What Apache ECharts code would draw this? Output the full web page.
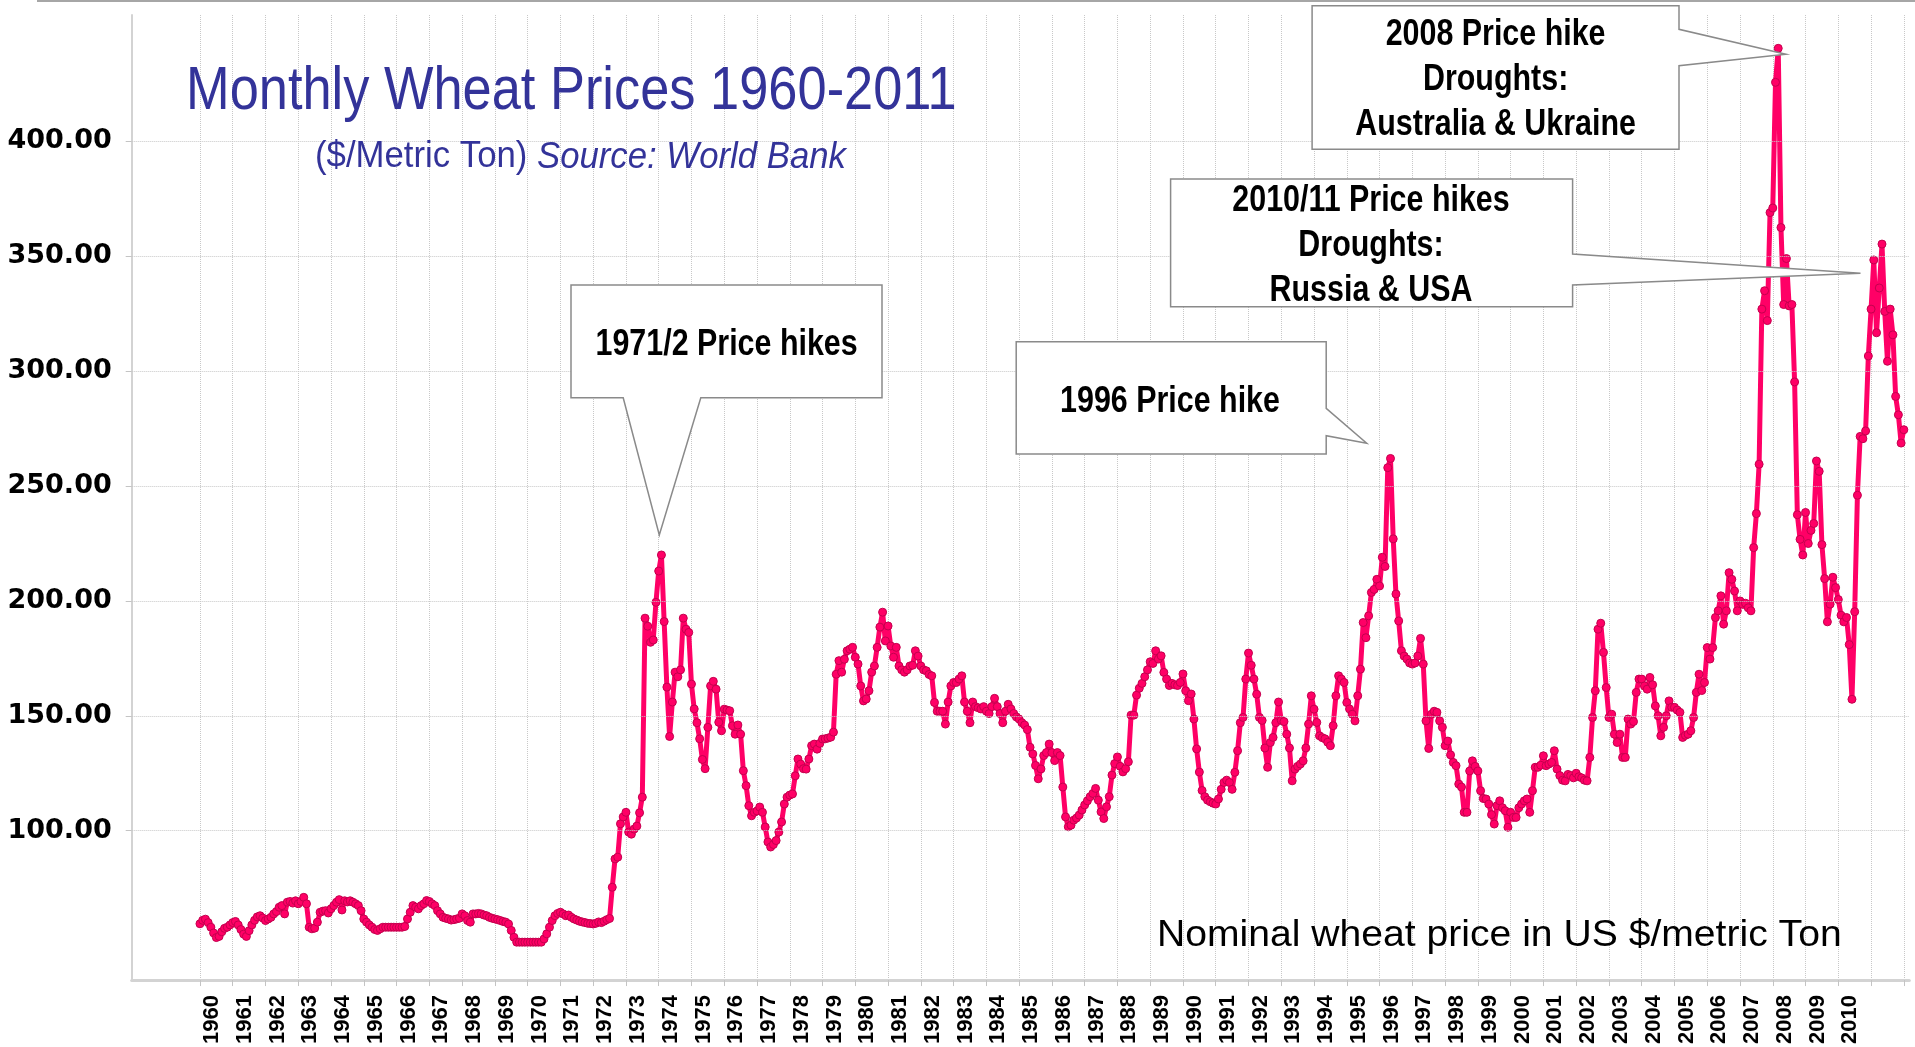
<!DOCTYPE html>
<html>
<head>
<meta charset="utf-8">
<script src="https://cdn.jsdelivr.net/npm/echarts@6/dist/echarts.min.js"></script>
<style>html,body{margin:0;padding:0;background:#fff}#c{width:1915px;height:1047px}</style>
</head>
<body>
<div id="c"></div>
<script>
// ---- monthly nominal wheat price, US $/metric ton ----
const prices1960s = [
  59.5, 61, 61.5, 60, 58, 55.5, 53.5, 54, 56, 57.5, 58, 59,
  60, 60.5, 59, 57, 55, 54, 56.5, 59, 61, 62.5, 63, 62,
  60.9, 61.6, 62.3, 63.8, 64.8, 66.7, 67.4, 63.8, 68.9, 69.2, 68.5, 69.5,
  68.2, 69.2, 71, 68.2, 58, 57.3, 57.6, 60.2, 64.5, 65, 65.2, 64.2,
  66, 67.4, 68.9, 70, 65.5, 69.5, 69, 69.5, 68.9, 68.2, 67.4, 65.2,
  61.6, 60.2, 59, 58, 57, 56.6, 57.3, 58, 58, 58, 58, 58,
  58, 58, 58, 58.3, 61.6, 64.5, 67.4, 66.7, 66, 67.4, 68.2, 69.6,
  69.2, 68.2, 67.4, 65.2, 63.8, 62.3, 61.9, 61.6, 61.1, 61.3, 61.6, 61.9,
  63.8, 63, 60.9, 60.2, 63.8, 63.8, 64, 63.8, 63.3, 63, 62.3, 61.9,
  61.6, 61.3, 60.9, 60.5, 60.2, 59.4, 56.6, 53.6, 51.5, 51.5, 51.5, 51.5
];
const prices1970s = [
  51.5, 51.5, 51.5, 51.5, 51.5, 51.5, 52.9, 55.1, 58, 60.9, 63, 64,
  64.5, 63.8, 63, 63.3, 62.3, 61.6, 61.1, 60.6, 60.3, 60, 59.7, 59.6,
  59.4, 59.7, 60.3, 60, 60.6, 61.3, 61.8, 75.4, 87.7, 88.5, 103, 106,
  108, 99.4, 98.5, 100.7, 102, 107.8, 114.6, 192.5, 189, 182, 183, 199.4,
  213, 220, 191, 162.5, 141, 156, 169, 167, 170, 192.5, 187.7, 186.3,
  163.8, 153, 147, 140, 131, 127, 145, 163, 165, 161.6, 147.2, 143.5,
  152.9, 152.5, 152.2, 145.7, 142, 146, 142, 126.1, 119.6, 110.9, 106.5, 108,
  108.6, 110.3, 108, 101.6, 95.1, 92.9, 94, 95.7, 99.4, 103.8, 111.6, 114.6,
  115.5, 116, 123.9, 131.2, 129, 127, 126.8, 131.2, 137, 137.7, 135.5, 138,
  139.9, 140, 140.3, 140.7, 142.9, 168.1, 174, 169, 174.6, 178.3, 179, 179.8
];
const prices1980s = [
  175.5, 172.5, 163, 156.5, 157.3, 160.9, 169, 171.7, 179.8, 188.6, 195.1, 182.6,
  189.1, 180.4, 175.5, 179.8, 171.7, 170, 169, 170, 171.7, 172, 178.3, 176,
  171.7, 170, 169.6, 168, 167.4, 155.8, 152, 152, 152, 146.4, 156, 163,
  164.5, 164.5, 166, 167.4, 156, 152, 147, 156, 154, 153.5, 153, 154,
  152, 151, 154, 157.6, 154, 151, 147, 152, 155, 153, 151, 149.5,
  148.6, 147, 146, 144, 136.3, 133.4, 128.4, 122.6, 126.9, 132.7, 134, 137.7,
  134, 130.5, 134, 132.7, 119, 106, 101.7, 102.4, 104.6, 105.5, 106.8, 109,
  111.2, 113, 114.8, 116.2, 118.4, 113.3, 108.2, 105.3, 110.4, 114.8, 124.2, 129.2,
  132.1, 128, 125.6, 127, 130, 150.3, 150.3, 159, 162, 164.1, 167, 170,
  173.5, 172.8, 178.3, 174.7, 176.1, 168.9, 166, 163.2, 164.1, 163.5, 163.2, 164.5
];
const prices1990s = [
  168.2, 160.9, 156.6, 159.5, 148.6, 135.6, 125.5, 117.5, 114.8, 113.3, 112.6, 112,
  111.6, 113.8, 118, 121, 122, 121, 118, 125.4, 134.8, 147, 149.3, 166,
  177.3, 172, 166, 159.4, 149.3, 148, 136, 127.6, 138.4, 140.6, 147, 156,
  148, 147.5, 142, 136, 121.7, 126.8, 128, 129, 130.4, 136, 146.4, 158.7,
  152.9, 147.1, 141.3, 140.5, 140, 138.5, 137, 145.7, 158.7, 167.4, 166, 164.5,
  155.8, 153, 150.7, 147.8, 158.7, 170.3, 190.6, 184, 193.5, 203.7, 205, 209.4,
  206.5, 219, 215, 258, 262, 227, 203, 191.3, 178.3, 176, 174.7, 173,
  172.5, 173, 176, 183.7, 172.5, 147.8, 135.8, 150.7, 152, 151.5, 147.8, 145,
  137, 139, 133, 129.7, 128.3, 120.3, 119, 108, 108, 126, 130.4, 128,
  126, 117.4, 114, 113.8, 111.6, 107, 102.9, 110.9, 113, 110, 108.7, 101.5
];
const prices2000s = [
  108, 105.8, 105.8, 110, 111.6, 113, 113.8, 108, 117.4, 127.6, 127.6, 128.5,
  132.6, 128.3, 129, 129.7, 134.8, 126.8, 124, 122, 121.7, 124.5, 124, 123,
  125, 123.5, 123, 122, 121.7, 131.9, 149.3, 160.9, 187.7, 190.3, 177.6, 162.3,
  149.3, 150.7, 142, 138.4, 142, 131.9, 131.9, 148.6, 146.4, 147.5, 160.2, 166,
  166, 163, 161.6, 166.7, 163.5, 154.3, 150, 141.3, 145, 150, 156.5, 153.7,
  153.7, 152.5, 151.5, 140.6, 141.5, 142, 143.5, 149.3, 160.2, 168.1, 161, 164.5,
  179.7, 174.7, 179.7, 192.8, 195.7, 202.2, 189.9, 195.7, 212.3, 209.4, 204.3, 195.7,
  200, 198.5, 199, 197, 195.7, 223.2, 238, 259.5, 327, 335, 322, 369,
  371, 425.7, 440.5, 362.5, 329, 349, 328.4, 329, 295.3, 237.5, 226.8, 220,
  238.5, 225, 230.7, 233.7, 260.9, 256.4, 224.5, 209.7, 190.9, 198.6, 210.3, 205.8
];
const prices2010s = [
  200.6, 193.8, 190.9, 192.8, 181, 157.2, 195.3, 246, 271.6, 270.6, 274, 306.6,
  327, 348.4, 316.7, 336.2, 355.3, 326, 304.3, 327, 315.8, 289, 281, 268.7,
  274.5
];
const yTickValues = [100, 150, 200, 250, 300, 350, 400];
const firstYear = 1960;      // first labelled / ticked year
const lastLabelYear = 2010;  // last labelled year (2011, 2012 ticks carry no label)
const padMonthsBefore = 25;  // empty months shown before Jan 1960 (Dec 1957 ..)

// ---- monthly categories Dec 1957 .. Mar 2012 ----
const months = ['1957-12'];
for (let y = 1958; y <= 2011; y++) {
  for (let m = 1; m <= 12; m++) months.push(y + '-' + String(m).padStart(2, '0'));
}
months.push('2012-01', '2012-02', '2012-03');

const prices = [].concat(prices1960s, prices1970s, prices1980s, prices1990s, prices2000s, prices2010s);
const seriesData = months.map((m, i) => {
  const k = i - padMonthsBefore;
  return (k >= 0 && k < prices.length) ? prices[k] : null;
});

const isYearTick = v => v.slice(5) === '01' && +v.slice(0, 4) >= firstYear;
const isYearLabel = v => isYearTick(v) && +v.slice(0, 4) <= lastLabelYear;

const chart = echarts.init(document.getElementById('c'), null, { renderer: 'canvas' });

const boxStyle = { fill: '#ffffff', stroke: '#8a8a8a', lineWidth: 1.5 };
function boxText(x, y, text) {
  return {
    type: 'text', x: x, y: y, scaleX: 0.845, z: 101,
    style: {
      text: text, fontSize: 36, fontWeight: 'bold', fontFamily: '"Liberation Sans", Arial, sans-serif',
      fill: '#000', align: 'center', textAlign: 'center', verticalAlign: 'middle', textVerticalAlign: 'middle',
      lineHeight: 45
    }
  };
}

chart.setOption({
  animation: false,
  backgroundColor: '#ffffff',
  grid: { left: 131.7, right: 5.7, top: 15, bottom: 66, containLabel: false },
  xAxis: {
    type: 'category',
    data: months,
    boundaryGap: false,
    axisLine: { show: true, lineStyle: { color: '#d3d3d3', width: 3 } },
    axisTick: { show: true, interval: (i, v) => isYearTick(v), length: 6, lineStyle: { color: '#c4c4c4', width: 1 } },
    axisLabel: {
      interval: (i, v) => isYearLabel(v),
      formatter: v => v.slice(0, 4),
      rotate: 90,
      margin: 15,
      verticalAlign: 'top',
      lineHeight: 24,
      fontFamily: '"Liberation Sans", Arial, sans-serif',
      fontWeight: 'bold',
      fontSize: 22,
      color: '#000'
    },
    splitLine: { show: true, interval: (i, v) => isYearTick(v), lineStyle: { type: 'dotted', color: '#c8c8c8', width: 1 } }
  },
  yAxis: {
    type: 'value',
    min: 35,
    max: 455,
    axisLine: { show: true, lineStyle: { color: '#d3d3d3', width: 2 } },
    axisTick: { show: true, customValues: yTickValues, length: 6, lineStyle: { color: '#c4c4c4', width: 1 } },
    axisLabel: {
      customValues: yTickValues,
      formatter: v => (yTickValues.indexOf(v) >= 0 ? v.toFixed(2) : ''),
      margin: 20,
      fontFamily: '"DejaVu Sans", sans-serif',
      fontWeight: 'bold',
      fontSize: 27,
      color: '#000'
    },
    splitLine: { show: false }
  },
  series: [
    {
      type: 'line',
      name: 'grid',
      data: [],
      z: 1,
      silent: true,
      markLine: {
        silent: true,
        symbol: ['none', 'none'],
        label: { show: false },
        lineStyle: { type: 'dotted', color: '#c8c8c8', width: 1 },
        emphasis: { disabled: true },
        data: yTickValues.map(v => ({ yAxis: v }))
      }
    },
    {
      type: 'line',
      name: 'Wheat',
      data: seriesData,
      z: 3,
      symbol: 'circle',
      symbolSize: 8,
      showAllSymbol: true,
      connectNulls: false,
      lineStyle: { color: '#FF0066', width: 5 },
      itemStyle: { color: '#FF0066', borderColor: '#C4004E', borderWidth: 1 },
      emphasis: { disabled: true }
    }
  ],
  graphic: {
    elements: [
      { type: 'line', z: 100, shape: { x1: 37, y1: 1, x2: 1915, y2: 1 }, style: { stroke: '#a6a6a6', lineWidth: 2 } },
      {
        type: 'text', x: 186, y: 92, scaleX: 0.845, z: 100,
        style: {
          text: 'Monthly Wheat Prices 1960-2011', fontSize: 62, fontFamily: '"Liberation Sans", Arial, sans-serif',
          fill: '#333399', align: 'left', textAlign: 'left', verticalAlign: 'middle', textVerticalAlign: 'middle'
        }
      },
      {
        type: 'text', x: 315, y: 157.5, scaleX: 0.965, z: 100,
        style: {
          text: '{n|($/Metric Ton) }{i|Source: World Bank}',
          align: 'left', textAlign: 'left', verticalAlign: 'middle', textVerticalAlign: 'middle',
          rich: {
            n: { fontSize: 36, fontFamily: '"Liberation Sans", Arial, sans-serif', fill: '#333399' },
            i: { fontSize: 36, fontStyle: 'italic', fontFamily: '"Liberation Sans", Arial, sans-serif', fill: '#333399' }
          }
        }
      },
      {
        type: 'text', x: 1157, y: 935.5, scaleX: 1.057, z: 100,
        style: {
          text: 'Nominal wheat price in US $/metric Ton', fontSize: 37, fontFamily: '"Liberation Sans", Arial, sans-serif',
          fill: '#000', align: 'left', textAlign: 'left', verticalAlign: 'middle', textVerticalAlign: 'middle'
        }
      },
      // callout: 1971/2
      { type: 'polygon', z: 100, shape: { points: [[571, 285], [882, 285], [882, 397.7], [700.8, 397.7], [659.3, 535], [623.2, 397.7], [571, 397.7]] }, style: boxStyle },
      boxText(726.6, 344.9, '1971/2 Price hikes'),
      // callout: 1996
      { type: 'polygon', z: 100, shape: { points: [[1016.2, 341.7], [1326.2, 341.7], [1326.2, 408.3], [1366.7, 443.3], [1326.2, 435.7], [1326.2, 454], [1016.2, 454]] }, style: boxStyle },
      boxText(1170, 402.2, '1996 Price hike'),
      // callout: 2010/11
      { type: 'polygon', z: 100, shape: { points: [[1170.6, 179], [1572.6, 179], [1572.6, 254], [1860.5, 273.3], [1572.6, 285], [1572.6, 306.7], [1170.6, 306.7]] }, style: boxStyle },
      boxText(1371, 245.6, '2010/11 Price hikes\nDroughts:\nRussia & USA'),
      // callout: 2008
      { type: 'polygon', z: 100, shape: { points: [[1312.1, 5.7], [1679, 5.7], [1679, 29.3], [1785.9, 54.3], [1679, 65.7], [1679, 149.3], [1312.1, 149.3]] }, style: boxStyle },
      boxText(1495.6, 79.6, '2008 Price hike\nDroughts:\nAustralia & Ukraine')
    ]
  }
});
</script>
</body>
</html>
